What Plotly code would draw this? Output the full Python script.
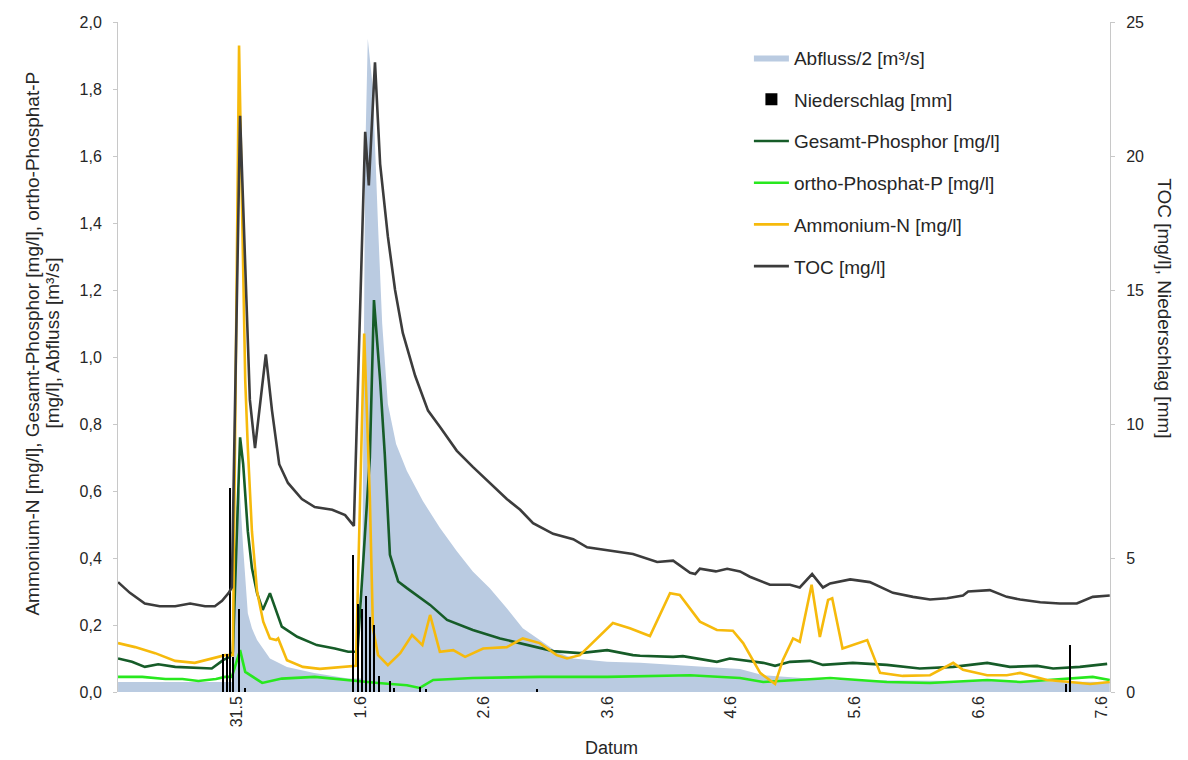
import pandas as pd
import plotly.graph_objects as go

BASE = pd.Timestamp("2013-05-30 00:00")

# ---- data (hours since 30.5. 00:00, values) ----
abfluss_h = [0.9, 10.0, 20.0, 23.2, 23.9, 24.5, 25.2, 25.8, 26.1, 26.9, 27.9, 30.4, 33.7, 39.0, 45.6, 48.2,
             48.9, 49.4, 50.4, 51.4, 52.2, 53.3, 54.9, 57.0, 60.1, 63.4, 66.7, 69.8, 73.1, 76.4, 79.5, 82.8,
             86.1, 89.3, 95.9, 102.3, 108.7, 115.3, 121.7, 126.2, 139.2, 160.0, 193.5]
abfluss_v = [0.03, 0.03, 0.03, 0.03, 0.55, 0.61, 0.43, 0.30, 0.235, 0.19, 0.155, 0.10, 0.075, 0.057, 0.04, 0.04,
             1.6, 1.95, 1.8, 1.39, 1.1, 0.86, 0.74, 0.66, 0.57, 0.49, 0.42, 0.36, 0.31, 0.25, 0.19, 0.155,
             0.12, 0.10, 0.09, 0.087, 0.08, 0.075, 0.069, 0.05, 0.036, 0.033, 0.03]

regen_h = [21.3, 22.1, 22.6, 23.2, 24.4, 25.6, 46.5, 47.5, 48.3, 49.1, 49.8, 50.6, 51.6, 53.7, 54.5,
           59.5, 60.7, 82.3, 185.0, 185.8]
regen_v = [1.4, 1.4, 7.6, 1.3, 3.1, 0.15, 5.1, 3.3, 3.1, 3.6, 2.8, 2.5, 0.6, 0.4, 0.15,
           0.2, 0.1, 0.1, 0.3, 1.75]

gesp_h = [0.9, 3.6, 6.1, 8.7, 12.0, 15.8, 19.1, 21.3, 22.6, 23.2, 24.6, 25.2, 26.1, 26.9, 27.9, 29.0, 30.4,
          32.7, 35.7, 39.5, 43.0, 45.6, 47.4, 49.8, 50.6, 51.8, 52.7, 53.7, 55.3, 57.0, 61.5, 64.8, 69.8,
          75.1, 80.3, 85.4, 90.6, 95.9, 100.9, 102.3, 108.7, 110.6, 117.2, 119.7, 126.2, 128.5, 131.4,
          135.3, 137.8, 143.6, 150.2, 156.6, 163.1, 169.7, 174.1, 179.4, 182.5, 187.7, 193.0]
gesp_v = [0.10, 0.09, 0.075, 0.083, 0.075, 0.072, 0.07, 0.095, 0.105, 0.12, 0.76, 0.68, 0.48, 0.37, 0.295,
          0.245, 0.295, 0.195, 0.165, 0.14, 0.13, 0.12, 0.12, 0.70, 1.17, 0.93, 0.71, 0.41, 0.33, 0.31,
          0.26, 0.215, 0.185, 0.16, 0.14, 0.122, 0.116, 0.125, 0.11, 0.108, 0.105, 0.107, 0.09, 0.10,
          0.087, 0.078, 0.09, 0.093, 0.081, 0.087, 0.081, 0.07, 0.075, 0.087, 0.075, 0.078, 0.07, 0.075, 0.084]

ortho_h = [0.9, 5.6, 10.1, 13.4, 16.5, 19.9, 21.7, 23.0, 24.6, 25.6, 28.9, 32.7, 39.1, 42.5, 45.6, 48.3,
           51.4, 57.0, 59.5, 62.1, 69.8, 82.9, 95.9, 112.0, 121.7, 126.2, 139.2, 150.2, 158.6, 169.7,
           176.1, 190.2, 193.5]
ortho_v = [0.045, 0.045, 0.039, 0.039, 0.033, 0.039, 0.045, 0.045, 0.125, 0.06, 0.027, 0.04, 0.045, 0.04,
           0.036, 0.03, 0.027, 0.02, 0.012, 0.036, 0.042, 0.045, 0.045, 0.05, 0.042, 0.03, 0.042, 0.03,
           0.027, 0.036, 0.03, 0.045, 0.036]

nh4_h = [0.9, 4.2, 8.1, 12.0, 15.8, 19.1, 21.7, 23.2, 24.4, 25.6, 26.1, 26.9, 27.9, 29.1, 30.4, 31.6, 32.0,
         33.7, 36.8, 40.1, 45.6, 47.1, 48.7, 49.8, 50.4, 51.4, 53.3, 55.7, 58.0, 60.0, 61.5, 63.4, 66.0,
         68.3, 71.8, 76.4, 79.5, 82.8, 86.1, 88.1, 90.6, 97.0, 100.3, 104.2, 108.1, 110.0, 113.9, 117.2,
         120.3, 122.3, 125.6, 128.5, 130.0, 132.0, 133.3, 135.6, 137.2, 138.8, 139.6, 141.6, 146.4, 148.9,
         153.3, 158.6, 163.1, 165.0, 169.7, 173.5, 176.1, 181.3, 185.8, 189.7, 193.5]
nh4_v = [0.146, 0.134, 0.116, 0.093, 0.087, 0.10, 0.11, 0.11, 1.93, 0.93, 0.73, 0.48, 0.30, 0.21, 0.16,
         0.155, 0.16, 0.095, 0.075, 0.069, 0.075, 0.078, 1.07, 0.58, 0.19, 0.11, 0.08, 0.116, 0.17, 0.14,
         0.23, 0.12, 0.125, 0.105, 0.13, 0.134, 0.16, 0.146, 0.11, 0.10, 0.11, 0.206, 0.19, 0.167, 0.295,
         0.29, 0.21, 0.185, 0.183, 0.146, 0.057, 0.024, 0.095, 0.16, 0.15, 0.32, 0.164, 0.275, 0.28, 0.13,
         0.155, 0.057, 0.048, 0.05, 0.087, 0.066, 0.05, 0.05, 0.057, 0.036, 0.03, 0.024, 0.03]

toc_h = [0.9, 3.2, 6.1, 9.0, 12.0, 14.9, 17.8, 19.7, 21.1, 22.4, 23.0, 24.6, 26.5, 27.5, 29.6, 30.8, 32.2,
         33.9, 36.6, 39.1, 42.5, 45.0, 46.7, 48.9, 49.6, 50.8, 51.8, 53.3, 54.7, 56.2, 58.6, 61.1, 63.4,
         66.7, 69.8, 73.1, 76.4, 79.0, 81.5, 85.4, 89.3, 92.0, 95.9, 100.9, 105.6, 108.7, 112.0, 113.0,
         113.9, 117.0, 119.2, 121.7, 123.6, 127.5, 131.4, 133.3, 135.7, 137.8, 139.2, 143.1, 146.9, 151.4,
         155.3, 158.6, 161.9, 165.0, 166.0, 170.2, 173.5, 176.1, 180.0, 183.8, 187.1, 190.2, 193.5]
toc_v = [4.1, 3.7, 3.3, 3.2, 3.2, 3.3, 3.2, 3.2, 3.4, 3.7, 3.9, 21.5, 10.9, 9.1, 12.6, 10.5, 8.5,
         7.8, 7.2, 6.9, 6.8, 6.6, 6.2, 20.9, 18.9, 23.5, 19.7, 17.0, 15.0, 13.4, 11.8, 10.5, 9.9,
         9.0, 8.4, 7.8, 7.2, 6.8, 6.3, 5.9, 5.7, 5.4, 5.3, 5.15, 4.85, 4.9, 4.45, 4.4,
         4.6, 4.5, 4.6, 4.5, 4.3, 4.0, 4.0, 3.9, 4.4, 3.9, 4.05, 4.2, 4.1, 3.7,
         3.55, 3.45, 3.5, 3.6, 3.75, 3.8, 3.55, 3.45, 3.35, 3.3, 3.3, 3.55, 3.6]

tick_days = ["2013-05-31", "2013-06-01", "2013-06-02", "2013-06-03", "2013-06-04", "2013-06-05",
             "2013-06-06", "2013-06-07"]
tick_labels = ["31.5", "1.6", "2.6", "3.6", "4.6", "5.6", "6.6", "7.6"]


def t(hours):
    return BASE + pd.to_timedelta(hours, unit="h")


FONT = "Liberation Sans, Arial, sans-serif"
TXT = "#262626"

fig = go.Figure()
fig.add_trace(go.Scatter(x=t(abfluss_h), y=abfluss_v, name="Abfluss/2 [m³/s]", mode="lines",
                         line=dict(width=0, color="rgb(186,203,225)"), fill="tozeroy",
                         fillcolor="rgb(186,203,225)", legendgroup="a"))
fig.add_trace(go.Bar(x=t(regen_h), y=regen_v, name="Niederschlag [mm]", yaxis="y2",
                     marker=dict(color="black", line=dict(width=0)), width=1700000, legendgroup="b"))
fig.add_trace(go.Scatter(x=t(gesp_h), y=gesp_v, name="Gesamt-Phosphor [mg/l]", mode="lines",
                         line=dict(color="rgb(22,92,40)", width=2.6), legendgroup="c"))
fig.add_trace(go.Scatter(x=t(ortho_h), y=ortho_v, name="ortho-Phosphat-P [mg/l]", mode="lines",
                         line=dict(color="rgb(40,232,30)", width=2.6), legendgroup="d"))
fig.add_trace(go.Scatter(x=t(nh4_h), y=nh4_v, name="Ammonium-N [mg/l]", mode="lines",
                         line=dict(color="rgb(246,186,12)", width=2.6), legendgroup="e"))
fig.add_trace(go.Scatter(x=t(toc_h), y=toc_v, name="TOC [mg/l]", mode="lines", yaxis="y2",
                         line=dict(color="rgb(60,60,60)", width=2.6), legendgroup="f"))

fig.update_layout(
    width=1188, height=760,
    margin=dict(l=118, r=78, t=22, b=68),
    paper_bgcolor="white", plot_bgcolor="white",
    separators=",.",
    font=dict(family=FONT, size=16, color=TXT),
    bargap=0,
    showlegend=True,
    legend=dict(x=0.636, y=0.975, xanchor="left", yanchor="top", bgcolor="rgba(255,255,255,0)",
                font=dict(size=19, family=FONT, color=TXT), tracegroupgap=14, itemwidth=35,
                traceorder="grouped"),
    xaxis=dict(type="date", range=[t(0.89), t(193.55)], tickvals=pd.to_datetime(tick_days),
               ticktext=tick_labels, tickangle=-90, showgrid=False, zeroline=False, showline=False,
               ticks="", tickfont=dict(size=16, family=FONT, color=TXT)),
    yaxis=dict(range=[0, 2.0], dtick=0.2, tickformat=".1f", showgrid=False, zeroline=False,
               showline=True, linecolor="#c8c8c8", linewidth=1, ticks="outside", ticklen=4,
               tickcolor="#c8c8c8", ticklabelstandoff=8, tickfont=dict(size=16, family=FONT, color=TXT)),
    yaxis2=dict(range=[0, 25], dtick=5, overlaying="y", side="right", showgrid=False, zeroline=False,
                showline=True, linecolor="#c8c8c8", linewidth=1, ticks="outside", ticklen=4,
                tickcolor="#c8c8c8", ticklabelstandoff=8, tickfont=dict(size=16, family=FONT, color=TXT)),
)

fig.add_annotation(text="Ammonium-N [mg/l], Gesamt-Phosphor [mg/l], ortho-Phosphat-P",
                   xref="paper", yref="paper", x=-0.0857, y=0.52, textangle=-90, showarrow=False,
                   xanchor="center", yanchor="middle", font=dict(size=19, family=FONT, color=TXT))
fig.add_annotation(text="[mg/l], Abfluss [m³/s]",
                   xref="paper", yref="paper", x=-0.0655, y=0.52, textangle=-90, showarrow=False,
                   xanchor="center", yanchor="middle", font=dict(size=19, family=FONT, color=TXT))
fig.add_annotation(text="TOC [mg/l], Niederschlag [mm]", xref="paper", yref="paper", x=1.0554, y=0.573,
                   textangle=90, showarrow=False, xanchor="center", yanchor="middle",
                   font=dict(size=19, family=FONT, color=TXT))
fig.add_annotation(text="Datum", xref="paper", yref="paper", x=0.497, y=-0.0836, showarrow=False,
                   xanchor="center", yanchor="middle", font=dict(size=18, family=FONT, color=TXT))

fig.write_html("out.html")
